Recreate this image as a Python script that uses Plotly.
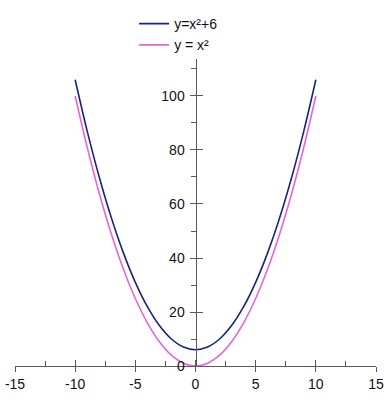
import plotly.graph_objects as go

x_vals = [-10, -9, -8, -7, -6, -5, -4, -3, -2, -1, 0, 1, 2, 3, 4, 5, 6, 7, 8, 9, 10]
y_plus6 = [106, 87, 70, 55, 42, 31, 22, 15, 10, 7, 6, 7, 10, 15, 22, 31, 42, 55, 70, 87, 106]
y_sq = [100, 81, 64, 49, 36, 25, 16, 9, 4, 1, 0, 1, 4, 9, 16, 25, 36, 49, 64, 81, 100]
series_names = ["y=x²+6", "y = x²"]
series_colors = ["#1b2478", "#e466dc"]
x_ticks = [-15, -10, -5, 0, 5, 10, 15]
x_tick_labels = ["-15", "-10", "-5", "0", "5", "10", "15"]
y_ticks = [0, 20, 40, 60, 80, 100]
y_tick_labels = ["0", "20", "40", "60", "80", "100"]

fig = go.Figure()
fig.add_trace(go.Scatter(x=x_vals, y=y_plus6, mode="lines", name=series_names[0],
                         line=dict(color=series_colors[0], width=1.6, shape="spline")))
fig.add_trace(go.Scatter(x=x_vals, y=y_sq, mode="lines", name=series_names[1],
                         line=dict(color=series_colors[1], width=1.6, shape="spline")))
# invisible trace on overlay axes to show inner ticks
fig.add_trace(go.Scatter(x=[0], y=[0], xaxis="x2", yaxis="y2", mode="markers",
                         marker=dict(opacity=0), showlegend=False, hoverinfo="skip"))

axis_col = "#5a5a5a"
font = dict(family="Liberation Sans, Arial, sans-serif", size=14, color="#111")

fig.update_layout(
    width=384, height=407,
    margin=dict(l=15, r=8, t=59, b=41, autoexpand=False),
    paper_bgcolor="white", plot_bgcolor="white",
    font=font,
    showlegend=True,
    legend=dict(x=0.33, y=1.166, xanchor="left", yanchor="top",
                bgcolor="rgba(0,0,0,0)", font=font, tracegroupgap=0,
                itemwidth=30),
    xaxis=dict(range=[-15, 15], tickvals=x_ticks, ticktext=x_tick_labels,
               ticks="outside", ticklen=5,
               tickcolor=axis_col, tickwidth=1, showline=True, linecolor=axis_col,
               linewidth=1, showgrid=False, zeroline=False, anchor="y",
               minor=dict(tickvals=[-12.5, -7.5, -2.5, 2.5, 7.5, 12.5], ticks="inside",
                          ticklen=5, tickcolor=axis_col),
               automargin=False),
    yaxis=dict(range=[0, 113.7], tickvals=y_ticks, ticktext=y_tick_labels,
               ticks="outside", ticklen=6,
               tickcolor=axis_col, tickwidth=1, showline=True, linecolor=axis_col,
               linewidth=1, showgrid=False, zeroline=False, anchor="free", position=0.5,
               minor=dict(tickvals=[10, 30, 50, 70, 90, 110], ticks="outside",
                          ticklen=5, tickcolor=axis_col),
               ticklabelstandoff=2, automargin=False),
    xaxis2=dict(range=[-15, 15], overlaying="x", tickvals=x_ticks, ticks="inside",
                ticklen=6, tickcolor=axis_col, showticklabels=False, showline=False,
                showgrid=False, zeroline=False, anchor="y", side="bottom"),
    yaxis2=dict(range=[0, 113.7], overlaying="y", tickvals=y_ticks, ticks="inside",
                ticklen=6, tickcolor=axis_col, showticklabels=False, showline=False,
                showgrid=False, zeroline=False, anchor="free", position=0.5, side="left"),
)

fig.write_html("out.html")
